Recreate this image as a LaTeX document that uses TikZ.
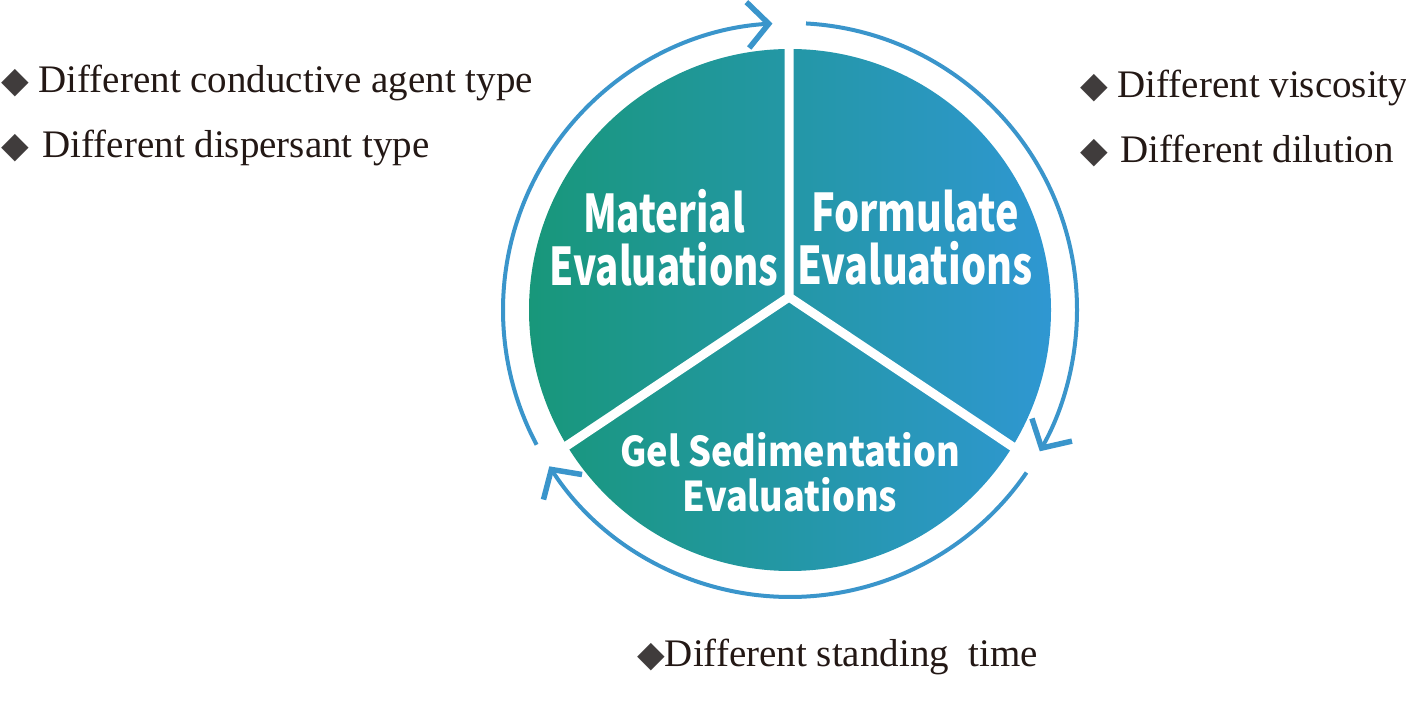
\documentclass[tikz,border=0pt]{standalone}
\usepackage{fontspec}
\setmainfont{Liberation Serif}
\newfontfamily\evalfont{Noto Sans CJK SC}
\newfontfamily\symfont{DejaVu Sans}
\usetikzlibrary{arrows.meta}

\definecolor{evalgreen}{HTML}{18977A}
\definecolor{evalblue}{HTML}{2F97D2}
\definecolor{ringblue}{HTML}{3A95CB}
\definecolor{textdark}{HTML}{231815}
\definecolor{diamgray}{HTML}{403C3C}
\newcommand\diam{{\color{diamgray}\symfont\fontsize{36}{40}\selectfont ◆}}

\begin{document}
\begin{tikzpicture}
    [x=1pt, y=1pt,
     ring/.style={draw=ringblue, line width=4pt,
       -{Straight Barb[length=21pt, width=46pt, line width=5.5pt]}},
     divider/.style={white, line width=9pt, line cap=round},
     eval/.style={text=white, align=center, inner sep=0pt,
       font=\evalfont\bfseries\fontsize{52}{53}\selectfont},
     factor/.style={text=textdark, anchor=base west, inner sep=0pt,
       font=\fontsize{39}{47}\selectfont}]
    \useasboundingbox (0,0) rectangle (1406,723);
    \coordinate (c) at (790,413);
    \coordinate (j) at (789,426);
    \coordinate (top) at (789,680);
    \coordinate (dl) at (556,270);
    \coordinate (dr) at (1022,270);
    % disk and dividers
    \shade[left color=evalgreen, right color=evalblue] (c) circle[radius=261];
    \draw[divider] (dl) -- (j) -- (dr) (j) -- (top);
    % cycle arrows
    \draw[ring] ([shift={(208:287)}]c) arc[start angle=208, end angle=93.5, radius=287];
    \draw[ring] ([shift={(86.8:287)}]c) arc[start angle=86.8, end angle=-29.5, radius=287];
    \draw[ring] ([shift={(-34.5:287)}]c) arc[start angle=-34.5, end angle=-147, radius=287];
    % labels
    \node[eval, xscale=0.74] (mat) at (664,485) {Material\\Evaluations};
    \node[eval, xscale=0.76] (form) at (915,485) {Formulate\\Evaluations};
    \node[eval, xscale=0.88, font=\evalfont\bfseries\fontsize{41}{45}\selectfont]
      (gel) at (790,251) {Gel Sedimentation\\Evaluations};
    % factors
    \node[factor] (agent) at (1,630) {\diam\ Different conductive agent type};
    \node[factor] (disp) at (1,565) {\diam\hspace{4pt}\ Different dispersant type};
    \node[factor] (visc) at (1080,625) {\diam\ Different viscosity};
    \node[factor] (dilu) at (1080,560) {\diam\hspace{3pt}\ Different dilution};
    \node[factor] (stand) at (637,56) {\diam Different standing\ \ time};
\end{tikzpicture}
\end{document}
